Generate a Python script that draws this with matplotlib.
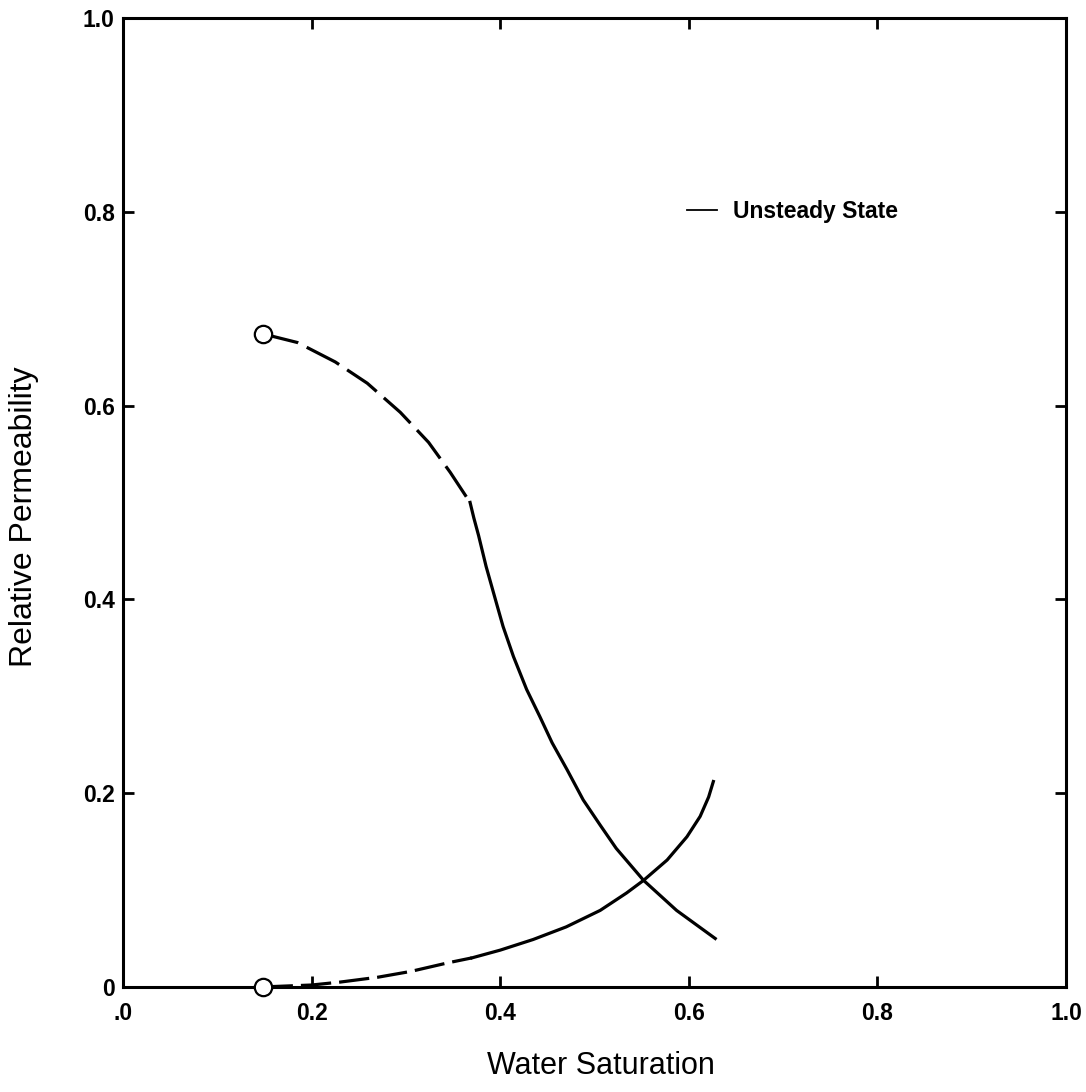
import matplotlib
matplotlib.use("Agg")
import matplotlib.pyplot as plt
from matplotlib.lines import Line2D

plt.rcParams["font.family"] = ["Liberation Sans", "DejaVu Sans"]

# oil curve: dashed part (circle end) then solid part
sw_oil_dash = [0.148, 0.185, 0.225, 0.259, 0.294, 0.324, 0.347, 0.368]
kro_dash = [0.674, 0.665, 0.645, 0.623, 0.593, 0.562, 0.531, 0.500]
sw_oil_solid = [0.368, 0.372, 0.377, 0.385, 0.396, 0.403, 0.414, 0.428, 0.442,
                0.455, 0.471, 0.488, 0.506, 0.523, 0.552, 0.587, 0.628]
kro_solid = [0.500, 0.484, 0.466, 0.434, 0.396, 0.372, 0.341, 0.307, 0.279,
             0.252, 0.224, 0.193, 0.167, 0.143, 0.110, 0.079, 0.050]

# water curve
sw_wat_dash = [0.148, 0.20, 0.23, 0.27, 0.305, 0.345, 0.37]
krw_dash = [0.0, 0.002, 0.005, 0.010, 0.016, 0.025, 0.030]
sw_wat_solid = [0.37, 0.40, 0.435, 0.470, 0.506, 0.534, 0.552, 0.577, 0.598,
                0.612, 0.621, 0.626]
krw_solid = [0.030, 0.038, 0.049, 0.062, 0.079, 0.097, 0.110, 0.131, 0.155,
             0.176, 0.196, 0.212]

# open circles at end points
sw_pts = [0.148, 0.148]
kr_pts = [0.674, 0.0]

xticks = [0, 0.2, 0.4, 0.6, 0.8, 1.0]
xticklabels = [".0", "0.2", "0.4", "0.6", "0.8", "1.0"]
yticks = [0, 0.2, 0.4, 0.6, 0.8, 1.0]
yticklabels = ["0", "0.2", "0.4", "0.6", "0.8", "1.0"]

fig = plt.figure(figsize=(10.86, 10.92), dpi=100)
ax = fig.add_axes([0.1133, 0.0962, 0.8683, 0.8874])

LW = 2.3
ax.plot(sw_oil_dash, kro_dash, color="black", lw=LW, linestyle=(0, (11.5, 3)))
ax.plot(sw_oil_solid, kro_solid, color="black", lw=LW)
ax.plot(sw_wat_dash, krw_dash, color="black", lw=LW, linestyle=(0, (9.5, 2.5)))
ax.plot(sw_wat_solid, krw_solid, color="black", lw=LW)
ax.plot(sw_pts, kr_pts, linestyle="none", marker="o", ms=12.5, mfc="white",
        mec="black", mew=1.6, zorder=5, clip_on=False)

ax.set_xlim(0, 1.0)
ax.set_ylim(0, 1.0)
ax.set_xticks(xticks)
ax.set_xticklabels(xticklabels, fontsize=16.5, fontweight="bold")
ax.set_yticks(yticks)
ax.set_yticklabels(yticklabels, fontsize=16.5, fontweight="bold")
ax.tick_params(direction="in", length=8, width=2, top=True, right=True)
ax.tick_params(axis="x", pad=11)
ax.tick_params(axis="y", pad=6)
for s in ax.spines.values():
    s.set_linewidth(2.2)

ax.set_xlabel("Water Saturation", fontsize=22)
ax.xaxis.set_label_coords(0.507, -0.066)
ax.set_ylabel("Relative Permeability", fontsize=23)
ax.yaxis.set_label_coords(-0.089, 0.485)

h = Line2D([], [], color="black", lw=1.3)
ax.legend([h], ["Unsteady State"], loc="center left", bbox_to_anchor=(0.598, 0.80),
          frameon=False, borderpad=0, borderaxespad=0, handlelength=1.3,
          handletextpad=0.7, prop={"size": 16.5, "weight": "bold"})

fig.savefig("out.png", dpi=100)
